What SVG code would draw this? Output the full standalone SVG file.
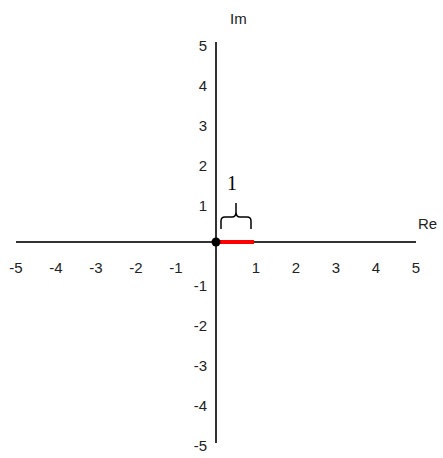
<svg xmlns="http://www.w3.org/2000/svg" width="443" height="458" viewBox="0 0 443 458">
<style>
.ax{stroke:#333;stroke-width:2;fill:none}
.t{font-family:"Liberation Sans",Arial,sans-serif;font-size:15px;fill:#222}
.xl{text-anchor:middle}
.yl{text-anchor:end}
</style>
<rect width="443" height="458" fill="#fff"/>
<g id="axes">
<line class="ax" x1="16" y1="242" x2="416" y2="242"/>
<line class="ax" x1="216" y1="42" x2="216" y2="443"/>
</g>
<g id="labels-x" class="t xl">
<text x="16" y="273">-5</text>
<text x="56" y="273">-4</text>
<text x="96" y="273">-3</text>
<text x="136" y="273">-2</text>
<text x="176" y="273">-1</text>
<text x="256" y="273">1</text>
<text x="296" y="273">2</text>
<text x="336" y="273">3</text>
<text x="376" y="273">4</text>
<text x="416" y="273">5</text>
</g>
<g id="labels-y" class="t yl">
<text x="207" y="51">5</text>
<text x="207" y="91">4</text>
<text x="207" y="131">3</text>
<text x="207" y="171">2</text>
<text x="207" y="211">1</text>
<text x="207" y="291">-1</text>
<text x="207" y="331">-2</text>
<text x="207" y="371">-3</text>
<text x="207" y="411">-4</text>
<text x="207" y="451">-5</text>
</g>
<text id="im" class="t" x="230" y="24" font-size="15">Im</text>
<text id="re" class="t" x="418" y="229" font-size="15">Re</text>
<g id="segment">
<line x1="216" y1="242" x2="254" y2="242" stroke="#f00" stroke-width="4"/>
<circle cx="216" cy="242" r="4.5" fill="#000"/>
</g>
<g id="brace">
<path d="M221,229 V221 Q221,217 225,217 H232 Q236,217 236,212 V203 M236,212 Q236,217 240,217 H247 Q251,217 251,221 V229" fill="none" stroke="#000" stroke-width="1.5"/>
<text x="232" y="190" font-family="Liberation Serif,Times New Roman,serif" font-size="20" text-anchor="middle" fill="#000">1</text>
</g>
</svg>
